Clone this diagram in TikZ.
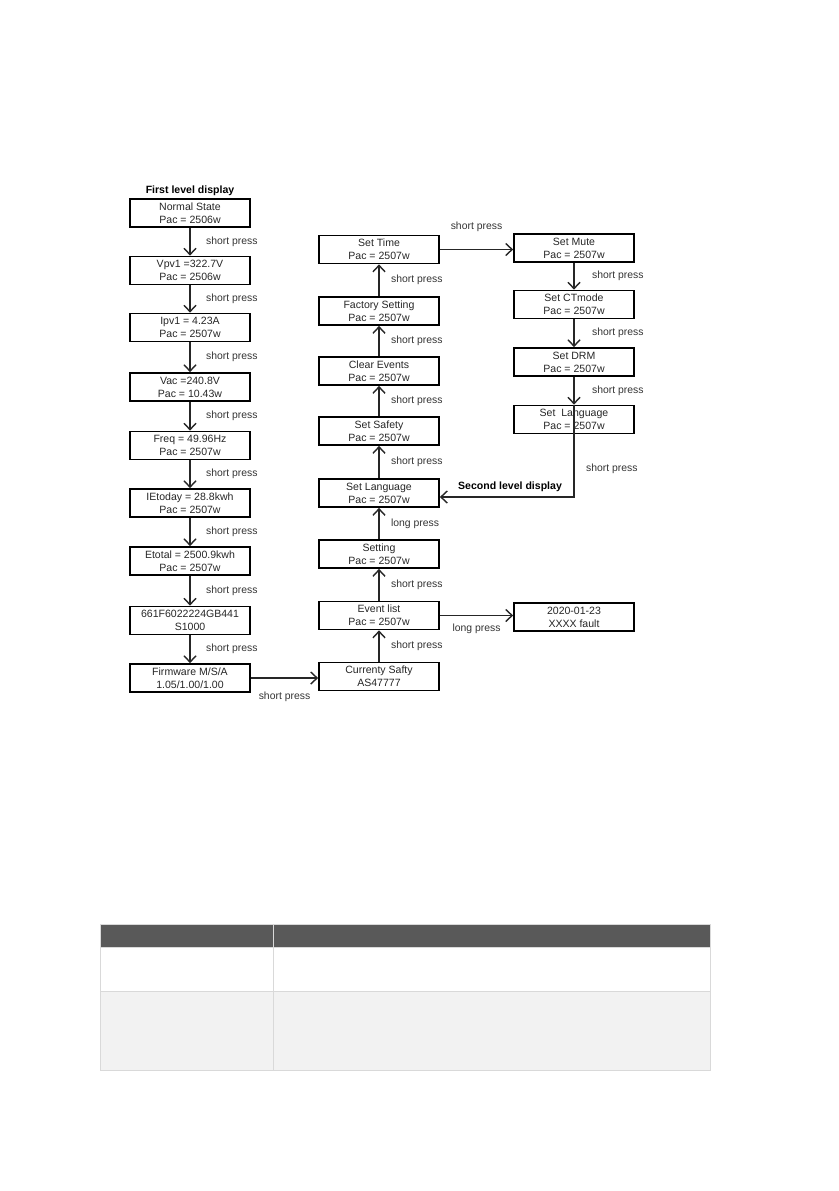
\documentclass[tikz,border=0pt]{standalone}
\usepackage{fontspec}
\setmainfont{Liberation Sans}
\usetikzlibrary{arrows.meta, positioning}

\definecolor{headgray}{HTML}{595959}
\definecolor{rowgray}{HTML}{F2F2F2}
\definecolor{gridgray}{HTML}{D9D9D9}

\begin{document}
\begin{tikzpicture}[
  x=0.25mm, y=-0.25mm,
  screen/.style={rectangle, draw=black, line width=1.2pt, minimum width=30mm, minimum height=7mm,
    align=center, inner sep=1pt, font=\fontsize{7.5}{9.2}\selectfont, text=black!85},
  lbl/.style={font=\fontsize{7.4}{8.5}\selectfont, text=black!80, inner sep=1pt},
  title/.style={font=\fontsize{7.5}{8.5}\selectfont\bfseries, inner sep=1pt},
  arr/.style={-{Straight Barb[length=1.6mm, width=3mm]}, line width=1pt, draw=black!85}
]
  \useasboundingbox (0,0) rectangle (839,1191);

  % First level display
  \node[title] (first) at (190,191) {First level display};
  \node[screen] (normal)   at (190,213)   {Normal State\\Pac = 2506w};
  \node[screen] (vpv)      at (190,270.5) {Vpv1 =322.7V\\Pac = 2506w};
  \node[screen] (ipv)      at (190,327.5) {Ipv1 = 4.23A\\Pac = 2507w};
  \node[screen] (vac)      at (190,387)   {Vac =240.8V\\Pac = 10.43w};
  \node[screen] (freq)     at (190,445.5) {Freq = 49.96Hz\\Pac = 2507w};
  \node[screen] (etoday)   at (190,503)   {IEtoday = 28.8kwh\\Pac = 2507w};
  \node[screen] (etotal)   at (190,561)   {Etotal = 2500.9kwh\\Pac = 2507w};
  \node[screen] (serial)   at (190,620.5) {661F6022224GB441\\S1000};
  \node[screen] (firmware) at (190,678)   {Firmware M/S/A\\1.05/1.00/1.00};

  % Middle column
  \node[screen] (safety)    at (379,676.5) {Currenty Safty\\AS47777};
  \node[screen] (eventlist) at (379,615.5) {Event list\\Pac = 2507w};
  \node[screen] (setting)   at (379,554)   {Setting\\Pac = 2507w};
  \node[screen] (language)  at (379,493)   {Set Language\\Pac = 2507w};
  \node[screen] (setsafety) at (379,431)   {Set Safety\\Pac = 2507w};
  \node[screen] (clearev)   at (379,371)   {Clear Events\\Pac = 2507w};
  \node[screen] (factory)   at (379,311)   {Factory Setting\\Pac = 2507w};
  \node[screen] (settime)   at (379,249.5) {Set Time\\Pac = 2507w};

  % Right column
  \node[screen] (mute)   at (574,248)   {Set Mute\\Pac = 2507w};
  \node[screen] (ctmode) at (574,304.5) {Set CTmode\\Pac = 2507w};
  \node[screen] (drm)    at (574,362)   {Set DRM\\Pac = 2507w};
  \node[screen] (rlang)  at (574,419.5) {Set\ \ Language\\Pac = 2507w};
  \node[screen] (fault)  at (574,617)   {2020-01-23\\XXXX fault};

  % Transitions, first level
  \draw[arr] (normal) -- node[lbl, right=3.5mm] {short press} (vpv);
  \draw[arr] (vpv) -- node[lbl, right=3.5mm] {short press} (ipv);
  \draw[arr] (ipv) -- node[lbl, right=3.5mm] {short press} (vac);
  \draw[arr] (vac) -- node[lbl, right=3.5mm] {short press} (freq);
  \draw[arr] (freq) -- node[lbl, right=3.5mm] {short press} (etoday);
  \draw[arr] (etoday) -- node[lbl, right=3.5mm] {short press} (etotal);
  \draw[arr] (etotal) -- node[lbl, right=3.5mm] {short press} (serial);
  \draw[arr] (serial) -- node[lbl, right=3.5mm] {short press} (firmware);
  \draw[arr] (firmware.east) -- node[lbl, below=3mm] {short press} (firmware.east -| safety.west);

  % Transitions, middle column
  \draw[arr] (safety) -- node[lbl, right=2.5mm] {short press} (eventlist);
  \draw[arr] (eventlist) -- node[lbl, right=2.5mm] {short press} (setting);
  \draw[arr] (setting) -- node[lbl, right=2.5mm] {long press} (language);
  \draw[arr] (language) -- node[lbl, right=2.5mm] {short press} (setsafety);
  \draw[arr] (setsafety) -- node[lbl, right=2.5mm] {short press} (clearev);
  \draw[arr] (clearev) -- node[lbl, right=2.5mm] {short press} (factory);
  \draw[arr] (factory) -- node[lbl, right=2.5mm] {short press} (settime);
  \draw[arr] (eventlist.east) -- node[lbl, below=1.5mm] {long press} (eventlist.east -| fault.west);
  \draw[arr] (settime.east) -- node[lbl, above=4mm] {short press} (settime.east -| mute.west);

  % Transitions, second level
  \draw[arr] (mute) -- node[lbl, right=4mm] {short press} (ctmode);
  \draw[arr] (ctmode) -- node[lbl, right=4mm] {short press} (drm);
  \draw[arr] (drm) -- node[lbl, right=4mm] {short press} (rlang);
  \coordinate (back) at (574,497);
  \draw[arr] (rlang.north) -- node[lbl, pos=0.7, right=2.5mm] {short press} (back) -- (back -| language.east);
  \node[title] (second) at (510,487) {Second level display};

  % Table below
  \fill[headgray] (100,924) rectangle (710,947);
  \fill[rowgray] (100,991) rectangle (710,1070);
  \draw[gridgray, line width=0.5pt] (100,924) rectangle (710,1070);
  \draw[gridgray, line width=0.5pt] (100,947) -- (710,947) (100,991) -- (710,991);
  \draw[gridgray, line width=0.5pt] (273,924) -- (273,1070);
\end{tikzpicture}
\end{document}
